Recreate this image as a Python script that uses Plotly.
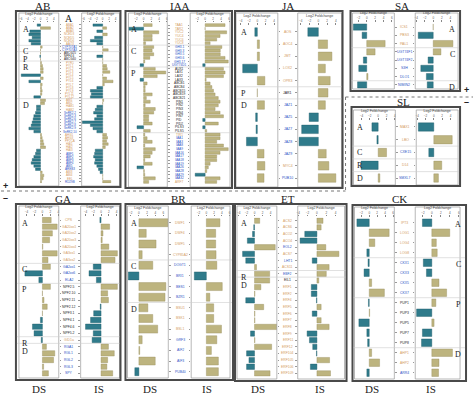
import plotly.graph_objects as go

W, H = 474, 395
TEAL, TEAL_L = "#2f7b8b", "#1f5a67"
KHAKI, KHAKI_L = "#bdb47f", "#978e5e"
LBL = {"o": "#d49d63", "b": "#2d55c6", "k": "#1e1e1e"}
SERIF = "Liberation Serif"

# ======================= DATA =======================
AB_genes = ["ABA1", "ABA2", "ABA3", "NCED3", "NCED5", "NCED6", "AAO3",
            "CYP707A1", "CYP707A3",
            "ABCG25", "NPF4.6", "ABCG40",
            "PYR1", "PYL1", "PYL2", "PYL3", "PYL4", "PYL5", "PYL6", "PYL7", "PYL8", "PYL9", "PYL11", "PYL12",
            "ABI1", "ABI2", "HAB1", "HAB2", "SnRK2.2", "SnRK2.3", "SnRK2.6", "SnRK2.7", "SnRK2.8", "SnRK2.9",
            "SnRK2.10", "AHG1", "AHG3", "PP2CA", "HAI1", "HAI2", "HAI3", "ABF1", "ABF2", "ABF3", "ABF4",
            "ABI5", "AREB3", "ABI3", "ABI4", "EEL", "RD29B"]
AB_groups = [("A", 7), ("C", 2), ("P", 3), ("R", 12), ("D", 27)]
AB_ds = [-1.0, 3.0, -3.2, -3.5, -2.5, -3.5, -2.8,
         0.5, 0.0,
         0.0, -0.2, 0.0,
         0.3, 0.6, 0.8, 0.8, -5.8, 0.8, -3.5, 0.5, 0.3, 0.5, 0.4, -2.0,
         1.5, 1.2, -1.2, -1.2, -1.5, -2.0, -2.2, -2.5, -2.8, -3.5, -2.0, 0.3, 0.5, 0.8, 1.0, 1.5,
         -1.2, -1.5, -2.0, -2.5, -2.8, -2.0, -1.5, 0.5, 1.0, 0.8, 0.3]
AB_is = [-3.0, 1.2, -1.8, 1.4, -2.5, -3.8, -1.8,
         0.0, 1.7,
         0.0, -1.8, 0.0,
         0.0, 1.2, 1.4, 2.2, 0.0, 1.2, 3.2, 0.5, -1.8, -3.8, -3.5, -3.8,
         0.3, 0.0, -1.8, -2.3, -2.8, -1.8, -2.5, -6.3, -3.8, -3.0, -1.8, 1.2, 1.5, 1.2, 1.7, 0.8,
         -2.3, -2.5, -2.8, -2.3, -2.5, -1.8, -1.3, -0.8, 0.0, 0.0, 2.5]

IAA_genes = ["TAA1", "TAR2", "YUC2", "YUC4", "YUC6", "YUC8",
             "GH3.1", "GH3.3", "GH3.5", "GH3.6", "GH3.17", "UGT74D1",
             "AUX1", "LAX1", "LAX2", "LAX3", "ABCB1", "ABCB4", "ABCB15", "ABCB19", "ABCB21",
             "PIN1", "PIN2", "PIN3", "PIN4", "PIN7", "PID", "PID2", "PILS3", "PILS5",
             "TIR1", "IAA1", "IAA3", "IAA8", "IAA9", "IAA16", "IAA17", "IAA18", "IAA19",
             "IAA26", "IAA28", "IAA29", "IAA32", "ARF7"]
IAA_groups = [("A", 6), ("C", 6), ("P", 18), ("D", 14)]
IAA_ds = [2.2, -3.9, 3.9, 2.2, 2.2, 0.5,
          2.6, 2.2, 2.6, 1.6, 0.3, -0.9,
          3.0, 5.7, 3.5, -0.9, 0.9, 0.4, 0.4, 2.2, 0.7, 1.7, 0.4, 3.0, 2.6, 1.3, 1.3, 2.2, -1.7, 1.7,
          0.3, 0.9, 2.2, 0.3, 3.0, 2.2, 1.7, 0.3, 2.2, -1.7, 0.2, 0.3, 3.0, 1.3]
IAA_is = [5.0, 0.0, 5.4, 3.75, 2.9, 1.25,
          4.2, 3.8, 3.8, 5.0, 5.8, -0.6,
          4.6, 5.0, 4.6, 0.25, 1.25, 1.7, 2.1, 2.5, 3.3, 3.75, 3.3, 2.5, 3.75, 4.6, -0.6, 3.3, -0.6, 0.4,
          3.75, 3.75, 2.9, 4.6, 5.8, 3.75, 2.9, 2.9, 1.25, 0.8, 0.4, -2.5, 3.75, 2.9]

JA_genes = ["AOS", "AOC4", "JMT", "LOX2", "OPR3", "JAR1", "JAZ1", "JAZ5", "JAZ7", "JAZ8", "JAZ9", "MYC4", "PUB10"]
JA_groups = [("A", 5), ("P", 1), ("D", 7)]
JA_ds = [-0.6, 0.5, 0.5, -3.5, 1.8, 0.0, 1.7, -0.4, -0.3, -2.6, 1.6, 1.8, 1.6]
JA_is = [-2.4, 2.1, 3.1, 1.6, 2.7, 2.2, 1.6, -2.1, -3.8, -4.4, 1.8, 2.4, 4.0]

SA_genes = ["ICS1", "PBS3", "PAL1", "UGT74F1", "UGT74F2", "S3H", "DLO1", "NIMIN2"]
SA_groups = [("A", 3), ("C", 4), ("D", 1)]
SA_ds = [-3.2, -1.1, 4.4, 2.0, -0.8, -1.9, 0.3, -2.2]
SA_is = [0.0, -3.5, 4.6, 1.8, -1.2, -2.9, -1.6, -1.4]

SL_genes = ["MAX1", "LBO", "CXE15", "D14", "SMXL7"]
SL_groups = [("A", 2), ("C", 1), ("R", 1), ("D", 1)]
SL_ds = [-1.5, -0.3, 2.0, -4.1, 0.4]
SL_is = [-3.7, 4.4, -1.2, 1.9, 1.1]

GA_genes = ["CPS", "GA20ox1", "GA20ox2", "GA20ox3", "GA20ox4", "GA3ox1", "GA3ox2",
            "GA2ox1", "GA2ox6", "ELA2",
            "NPF2.5", "NPF2.10", "NPF2.11", "NPF2.12", "NPF3.1", "NPF4.1", "NPF4.6", "NPF5.2",
            "GID1a",
            "RGA1", "RGL1", "RGL2", "RGL3", "SPY"]
GA_groups = [("A", 7), ("C", 3), ("P", 8), ("R", 1), ("D", 5)]
GA_ds = [2.2, 3.7, 2.5, 1.8, 0.1, 3.7, 1.4,
         2.0, -4.4, -0.9,
         2.0, 0.0, 0.4, 1.2, 0.0, -0.5, -2.5, -2.1,
         -0.3,
         1.0, 3.1, 2.8, 0.3, 1.5]
GA_is = [-0.3, 2.2, 0.5, 0.3, 2.0, 4.2, 3.6,
         -2.0, -3.1, -1.2,
         4.2, 1.7, 1.9, -0.2, -1.9, -2.7, -4.0, -2.0,
         -2.3,
         1.9, 3.4, 1.7, 1.5, 3.0]

BR_genes = ["DWF1", "DWF4", "DWF5", "CYP85A2",
            "DOGT1", "BRI1", "BES1", "BZR1",
            "BSU1", "BSK1", "BSL1", "GRF3", "AIF2", "AIF3", "PUB40"]
BR_groups = [("A", 4), ("C", 4), ("D", 7)]
BR_ds = [7.1, 1.8, 4.2, 0.8, 3.4, -2.6, 6.6, 6.4, 2.2, 3.4, 4.6, 0.8, 0.2, 4.0, -1.0]
BR_is = [3.5, 2.4, 2.4, 2.5, 2.7, -3.1, 4.1, 0.9, 1.9, 1.9, 3.9, 2.7, 1.3, 3.1, 3.1]

ET_genes = ["ACS2", "ACS6", "ACO2", "ACO4", "EOL2", "ACS7", "LHT1", "ACS11",
            "EBF2",
            "EIL1", "ERF1", "ERF2", "ERF4", "ERF5", "ERF6", "ERF7", "ERF8", "ERF9", "ERF11",
            "ERF12", "ERF104", "ERF105", "ERF106", "ERF109"]
ET_groups = [("A", 8), ("R", 1), ("D", 15)]
ET_ds = [1.3, -0.2, -0.5, -1.8, 5.2, -3.0, -2.2, 0.5,
         3.8,
         3.8, 1.6, 0.1, -2.2, 2.3, 0.1, 0.1, 5.6, -1.0, 0.1, 4.3, -2.0, -1.4, -2.0, 3.9]
ET_is = [1.3, 0.9, -2.6, -3.6, 1.9, 4.7, -1.0, 2.6,
         2.0,
         0.4, -1.2, -1.2, -0.1, 0.9, -1.0, 0.9, 2.6, -2.1, -1.6, -0.9, -0.1, 2.7, -1.4, 2.9]

CK_genes = ["IPT3", "LOG1", "LOG4", "LOG8",
            "CKX1", "CKX3", "CKX5", "CKX7",
            "PUP1", "PUP3", "PUP5", "PUP7", "PUP8",
            "AHP1", "AHP2", "ARR4"]
CK_groups = [("A", 4), ("C", 4), ("P", 5), ("D", 3)]
CK_ds = [-3.1, 5.0, 1.4, -0.6, -0.3, -1.3, 0.6, 3.8, -0.2, 0.1, -2.6, -0.6, -0.4, 0.6, 2.6, -0.6]
CK_is = [-2.1, 4.0, 1.0, 1.2, -1.9, -1.2, 1.6, 3.3, 0.9, -3.4, 0.5, -2.1, -2.3, 4.6, 1.6, 1.5]

# ======================= LAYOUT CONFIG (pixels) =======================
panels = [
    dict(title=("AB", 42, 6), genes=AB_genes, groups=AB_groups, ds=AB_ds, is_=AB_is,
         box=(15, 11, 120, 187), dsx=(18, 58), isx=(81, 119), rect=(13, 186), rows=(23.4, 183.3),
         labx=69, letx=20, lside="left", dsr=[-6.5, 5.5], isr=[-6.5, 5.2], fs=3.0, bw=0.8,
         runs="o7 b2 k3 o12 o4 b7 o6 b6 o3 b1"),
    dict(title=("IAA", 180, 6), genes=IAA_genes, groups=IAA_groups, ds=IAA_ds, is_=IAA_is,
         box=(125, 11, 232, 188), dsx=(128, 167), isx=(190, 230), rect=(13, 187), rows=(23.2, 183.8),
         labx=179, letx=129, lside="left", dsr=[-3.9, 6.1], isr=[-3.75, 6.25], fs=3.2, bw=0.8,
         runs="o6 b6 k18 o1 b12 o1"),
    dict(title=("JA", 288, 6), genes=JA_genes, groups=JA_groups, ds=JA_ds, is_=JA_is,
         box=(235, 11, 343, 188), dsx=(236, 278), isx=(298, 342), rect=(13, 187), rows=(25.9, 184.1),
         labx=288, letx=239, lside="left", dsr=[-5.1, 4.9], isr=[-4.7, 5.3], fs=3.5, bw=0.7,
         runs="o5 k1 b5 o1 b1"),
    dict(title=("SA", 403, 6), genes=SA_genes, groups=SA_groups, ds=SA_ds, is_=SA_is,
         box=(351, 11, 461, 91), dsx=(353, 395), isx=(416, 459), rect=(13, 89), rows=(22.9, 89),
         labx=405, letx=458, lside="right", dsr=[-3.4, 6.6], isr=[-4.2, 5.8], fs=3.5, bw=0.75,
         runs="o3 b5"),
    dict(title=("SL", 404, 102), genes=SL_genes, groups=SL_groups, ds=SL_ds, is_=SL_is,
         box=(352, 107, 461, 186), dsx=(354, 396), isx=(417, 459), rect=(110, 185), rows=(120.6, 184.4),
         labx=406, letx=356, lside="left", dsr=[-5.9, 4.1], isr=[-4.2, 5.8], fs=3.5, bw=0.65,
         runs="o2 b1 o1 b1"),
    dict(title=("GA", 62, 199), genes=GA_genes, groups=GA_groups, ds=GA_ds, is_=GA_is,
         box=(15, 204, 120, 380), dsx=(18, 58), isx=(80, 119), rect=(206, 378), rows=(216.7, 376.7),
         labx=68, letx=19, lside="left", dsr=[-5.9, 4.1], isr=[-5.25, 4.75], fs=3.4, bw=0.8,
         runs="o7 b3 k8 o1 b5"),
    dict(title=("BR", 178, 199), genes=BR_genes, groups=BR_groups, ds=BR_ds, is_=BR_is,
         box=(125, 204, 233, 380), dsx=(127, 168), isx=(191, 230), rect=(206, 378), rows=(217.4, 377),
         labx=180, letx=129, lside="left", dsr=[-2.8, 7.2], isr=[-3.9, 6.1], fs=3.4, bw=0.75,
         runs="o4 b4 o3 b4"),
    dict(title=("ET", 288, 199), genes=ET_genes, groups=ET_groups, ds=ET_ds, is_=ET_is,
         box=(235, 204, 347, 381), dsx=(237, 277), isx=(298, 345), rect=(206, 379), rows=(217.4, 376.7),
         labx=288, letx=239, lside="left", dsr=[-4.4, 5.6], isr=[-4.1, 5.9], fs=3.4, bw=0.8,
         runs="o4 b1 o1 b1 o1 b1 k1 o14"),
    dict(title=("CK", 400, 199), genes=CK_genes, groups=CK_groups, ds=CK_ds, is_=CK_is,
         box=(353, 205, 467, 381), dsx=(355, 395), isx=(416, 461), rect=(207, 379), rows=(217.7, 377.7),
         labx=405, letx=464, lside="right", dsr=[-3.7, 6.3], isr=[-3.7, 6.3], fs=3.4, bw=0.75,
         runs="o4 b4 k5 o2 b1"),
]


def fx(x):
    return x / W


def fy(y):
    return 1 - y / H


def txt_ann(text, x, y, size, family=SERIF, bold=False):
    return dict(text=("<b>%s</b>" % text) if bold else text, x=fx(x), y=fy(y), xref="paper", yref="paper",
                xanchor="center", yanchor="middle", showarrow=False,
                font=dict(family=family, size=size, color="#222"))


fig = go.Figure()
layout = {}
shapes = []
annots = []
ax = 0

for P in panels:
    n = len(P["genes"])
    rows = list(range(n))
    axes_ids = []
    for key, xr, rng, yside in (("ds", P["dsx"], P["dsr"], "right"), ("is_", P["isx"], P["isr"], "left")):
        ax += 1
        xa, ya = ("x", "y") if ax == 1 else (f"x{ax}", f"y{ax}")
        xk, yk = ("xaxis", "yaxis") if ax == 1 else (f"xaxis{ax}", f"yaxis{ax}")
        vals = P[key]
        fig.add_trace(go.Bar(
            x=vals, y=rows, orientation="h", xaxis=xa, yaxis=ya, width=P["bw"],
            marker=dict(color=[TEAL if v < 0 else KHAKI for v in vals],
                        line=dict(color=[TEAL_L if v < 0 else KHAKI_L for v in vals], width=0.4)),
            showlegend=False, hovertext=P["genes"], hoverinfo="text+x"))
        rt, rb = P["rows"]
        layout[xk] = dict(domain=[fx(xr[0]), fx(xr[1])], anchor=ya, range=rng, side="top",
                          showgrid=False, zeroline=False, showline=False, dtick=2,
                          ticks="outside", ticklen=1.5, tickwidth=0.5, tickcolor="#888",
                          tickfont=dict(size=3, color="#555"),
                          title=dict(text="Log2 Foldchange", font=dict(size=3.5, color="#444"), standoff=1))
        layout[yk] = dict(domain=[fy(rb), fy(rt)], anchor=xa, range=[n - 0.5, -0.5],
                          showgrid=False, zeroline=False, showticklabels=False, side=yside,
                          tickvals=rows, ticks="outside", ticklen=1.5, tickwidth=0.5, tickcolor="#999")
        shapes.append(dict(type="rect", xref="paper", yref="paper",
                           x0=fx(xr[0]), x1=fx(xr[1]), y0=fy(P["rect"][1]), y1=fy(P["rect"][0]),
                           line=dict(color="#9a9a9a", width=0.7)))
        axes_ids.append(ya)
    ya_ds = axes_ids[0]
    bx0, by0, bx1, by1 = P["box"]
    shapes.append(dict(type="rect", xref="paper", yref="paper", x0=fx(bx0), x1=fx(bx1),
                       y0=fy(by1), y1=fy(by0), line=dict(color="#4a4a4a", width=2)))
    # group separators and letters
    rt, rb = P["rows"]
    pitch = (rb - rt) / n
    start = 0
    prev_top = -100.0
    for gi, (letter, cnt) in enumerate(P["groups"]):
        if gi > 0:
            shapes.append(dict(type="line", xref="paper", yref=ya_ds, x0=fx(bx0 + 1), x1=fx(bx1 - 1),
                               y0=start - 0.5, y1=start - 0.5, line=dict(color="#cdcdcd", width=0.6)))
        top = max(rt + start * pitch, prev_top + 8.0)
        prev_top = top
        annots.append(dict(text=letter, x=fx(P["letx"]), y=fy(top), xref="paper", yref="paper",
                           xanchor=P["lside"], yanchor="top", showarrow=False,
                           font=dict(family=SERIF, size=8, color="#222")))
        start += cnt
    # gene labels
    cols = []
    for tok in P["runs"].split():
        cols += [LBL[tok[0]]] * int(tok[1:])
    for i, g in enumerate(P["genes"]):
        annots.append(dict(text=g, x=fx(P["labx"]), y=i, xref="paper", yref=ya_ds, xanchor="center",
                           yanchor="middle", showarrow=False, font=dict(size=P["fs"], color=cols[i])))
    t, tx, ty = P["title"]
    annots.append(txt_ann(t, tx, ty, 11))

# extra "A" under AB title
annots.append(txt_ann("A", 68, 18, 10))
# DS / IS labels
for t, x in (("DS", 38), ("IS", 98), ("DS", 150), ("IS", 207), ("DS", 258), ("IS", 320),
             ("DS", 373), ("IS", 432)):
    annots.append(txt_ann(t, x, 389, 11))
# + / - signs
for t, x, y in (("+", 5, 186), ("\u2013", 5, 198), ("+", 467, 90), ("\u2013", 467, 102)):
    annots.append(txt_ann(t, x, y, 9, family="Liberation Sans", bold=True))
# dotted separators
for (x0, y0, x1, y1) in ((0, 191, 346, 191), (346, 97, 346, 191), (346, 97, 474, 97)):
    shapes.append(dict(type="line", xref="paper", yref="paper", x0=fx(x0), x1=fx(x1),
                       y0=fy(y0), y1=fy(y1), line=dict(color="#777", width=1, dash="dot")))

fig.update_layout(width=W, height=H, autosize=False, margin=dict(l=0, r=0, t=0, b=0),
                  paper_bgcolor="white", plot_bgcolor="white", bargap=0.2,
                  font=dict(family="Liberation Sans"), shapes=shapes, annotations=annots,
                  **layout)
fig.write_html("out.html", config={"displayModeBar": False},
               post_script="document.body.style.margin='0';document.body.style.overflow='hidden';")
